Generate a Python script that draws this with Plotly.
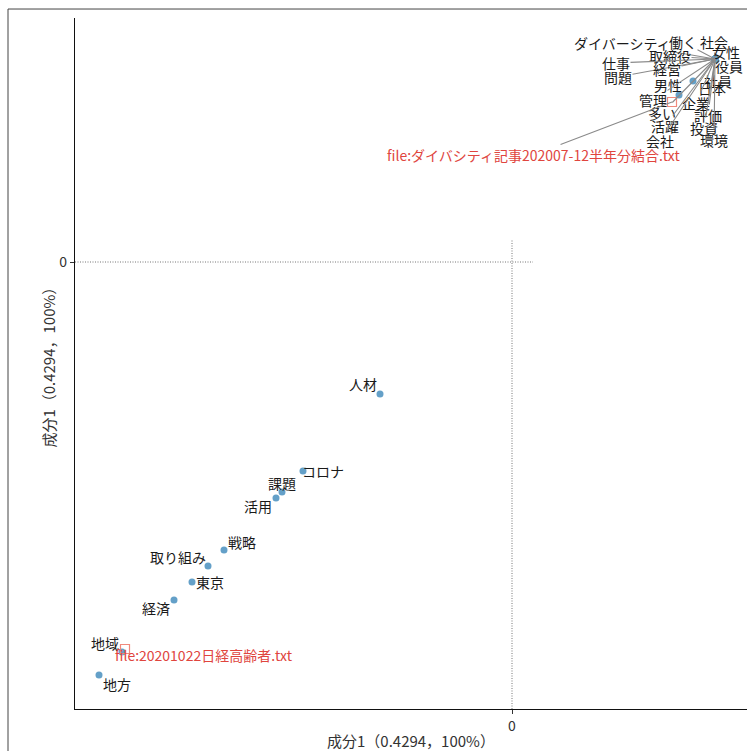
import plotly.graph_objects as go

# Correspondence-analysis scores (component 1 only, plotted against itself)
words = [
    "人材", "コロナ", "課題", "活用", "戦略", "取り組み", "東京", "経済", "地域", "地方",
    "男性", "社員",
    "ダイバーシティ", "働く", "社会", "女性", "取締役", "役員", "仕事", "問題", "経営",
    "日本", "管理", "企業", "多い", "評価", "活躍", "投資", "会社", "環境",
]
word_scores = [
    -1.32, -2.09, -2.30, -2.36, -2.88, -3.04, -3.20, -3.38, -3.90, -4.13,
    1.67, 1.81,
    2.03, 2.03, 2.03, 2.03, 2.03, 2.03, 2.03, 2.03, 2.03,
    2.03, 2.03, 2.03, 2.03, 2.03, 2.03, 2.03, 2.03, 2.03,
]
docs = ["file:ダイバシティ記事202007-12半年分結合.txt", "file:20201022日経高齢者.txt"]
doc_scores = [1.60, -3.87]

axis_title = "成分1（0.4294，100%）"

# Label placement: pixel offset (dx, dy-down) and whether a leader segment is drawn
word_label_pos = {
    "人材": (-17, -10, False), "コロナ": (20, 0, False), "課題": (0, -9, False),
    "活用": (-18, 8, False), "戦略": (18, -8, False), "取り組み": (-30, -9, False),
    "東京": (18, 0, False), "経済": (-18, 8, False), "地域": (-17, -9, False),
    "地方": (18, 9, False), "男性": (-11, -10, False), "社員": (25, 0, False),
    "ダイバーシティ": (-93, -16, True), "働く": (-32, -17, True), "社会": (-1, -17, True),
    "女性": (11, -7, False), "取締役": (-45, -3, True), "役員": (14, 7, False),
    "仕事": (-99, 4, True), "問題": (-97, 18, True), "経営": (-48, 10, True),
    "日本": (-3, 29, True), "管理": (-62, 41, True), "企業": (-19, 44, True),
    "多い": (-53, 54, True), "評価": (-7, 56, True), "活躍": (-50, 67, True),
    "投資": (-11, 69, True), "会社": (-55, 82, True), "環境": (-1, 81, True),
}
doc_label_pos = [(-139, 53, True), (79, 6, False)]

FONT = "Noto Sans CJK JP, Noto Sans, sans-serif"
WORD_COLOR = "#64a0c8"
DOC_COLOR = "#f0897c"
DOC_TEXT = "#e0453e"
SEG_COLOR = "#8a8a8a"

X_RANGE = [-4.37, 2.35]
Y_RANGE = [-4.47, 2.44]

fig = go.Figure()

fig.add_trace(go.Scatter(
    x=word_scores, y=word_scores, mode="markers",
    marker=dict(color=WORD_COLOR, size=7),
    hovertext=words, hoverinfo="text", showlegend=False,
))
fig.add_trace(go.Scatter(
    x=doc_scores, y=doc_scores, mode="markers",
    marker=dict(symbol="square-open", color=DOC_COLOR, size=9, line=dict(width=1.2)),
    hovertext=docs, hoverinfo="text", showlegend=False,
))

annotations = []


def add_label(text, s, pos, size, color):
    dx, dy, seg = pos
    if seg:
        annotations.append(dict(
            x=s, y=s, xref="x", yref="y", text=text, showarrow=True,
            ax=dx, ay=dy, arrowhead=0, arrowwidth=1.1, arrowcolor=SEG_COLOR,
            standoff=0, startstandoff=0, borderpad=0,
            font=dict(family=FONT, size=size, color=color),
        ))
    else:
        annotations.append(dict(
            x=s, y=s, xref="x", yref="y", text=text, showarrow=False,
            xshift=dx, yshift=-dy, borderpad=0,
            font=dict(family=FONT, size=size, color=color),
        ))


for w, s in zip(words, word_scores):
    add_label(w, s, word_label_pos[w], 14, "#1a1a1a")
for d, s, pos in zip(docs, doc_scores, doc_label_pos):
    add_label(d, s, pos, 14, DOC_TEXT)

# Axis titles
annotations.append(dict(
    x=0.5, y=-0.045, xref="paper", yref="paper", text=axis_title, showarrow=False,
    xanchor="center", yanchor="middle", font=dict(family=FONT, size=15, color="#333333"),
))
annotations.append(dict(
    x=-0.040, y=0.5, xref="paper", yref="paper", text=axis_title, showarrow=False,
    textangle=-90, xanchor="center", yanchor="middle",
    font=dict(family=FONT, size=15, color="#333333"),
))

shapes = [
    # dotted zero reference lines
    dict(type="line", xref="x", yref="y", x0=0, x1=0, y0=Y_RANGE[0], y1=0.22,
         line=dict(color="#666666", width=0.9, dash="1px,1.5px")),
    dict(type="line", xref="x", yref="y", x0=X_RANGE[0], x1=0.21, y0=0, y1=0,
         line=dict(color="#666666", width=0.9, dash="1px,1.5px")),
    # outer frame
    dict(type="rect", xref="paper", yref="paper", x0=-0.0997, x1=1.05, y0=-0.08, y1=1.013,
         line=dict(color="#444444", width=1), fillcolor="rgba(0,0,0,0)", layer="below"),
]

fig.update_layout(
    width=747, height=751,
    margin=dict(l=75, r=0, t=18, b=42),
    paper_bgcolor="white", plot_bgcolor="white",
    font=dict(family=FONT, size=13, color="#333333"),
    annotations=annotations, shapes=shapes,
    showlegend=False,
)
fig.update_xaxes(
    range=X_RANGE, showgrid=False, zeroline=False,
    showline=True, linecolor="#111111", linewidth=1.3,
    tickvals=[0], ticktext=["0"], ticks="outside", ticklen=4, tickcolor="#333333",
    tickfont=dict(size=14, color="#333333"),
)
fig.update_yaxes(
    range=Y_RANGE, showgrid=False, zeroline=False,
    showline=True, linecolor="#111111", linewidth=1.3,
    tickvals=[0], ticktext=["0"], ticks="outside", ticklen=4, tickcolor="#333333",
    tickfont=dict(size=14, color="#333333"),
)

fig.write_html("out.html")
